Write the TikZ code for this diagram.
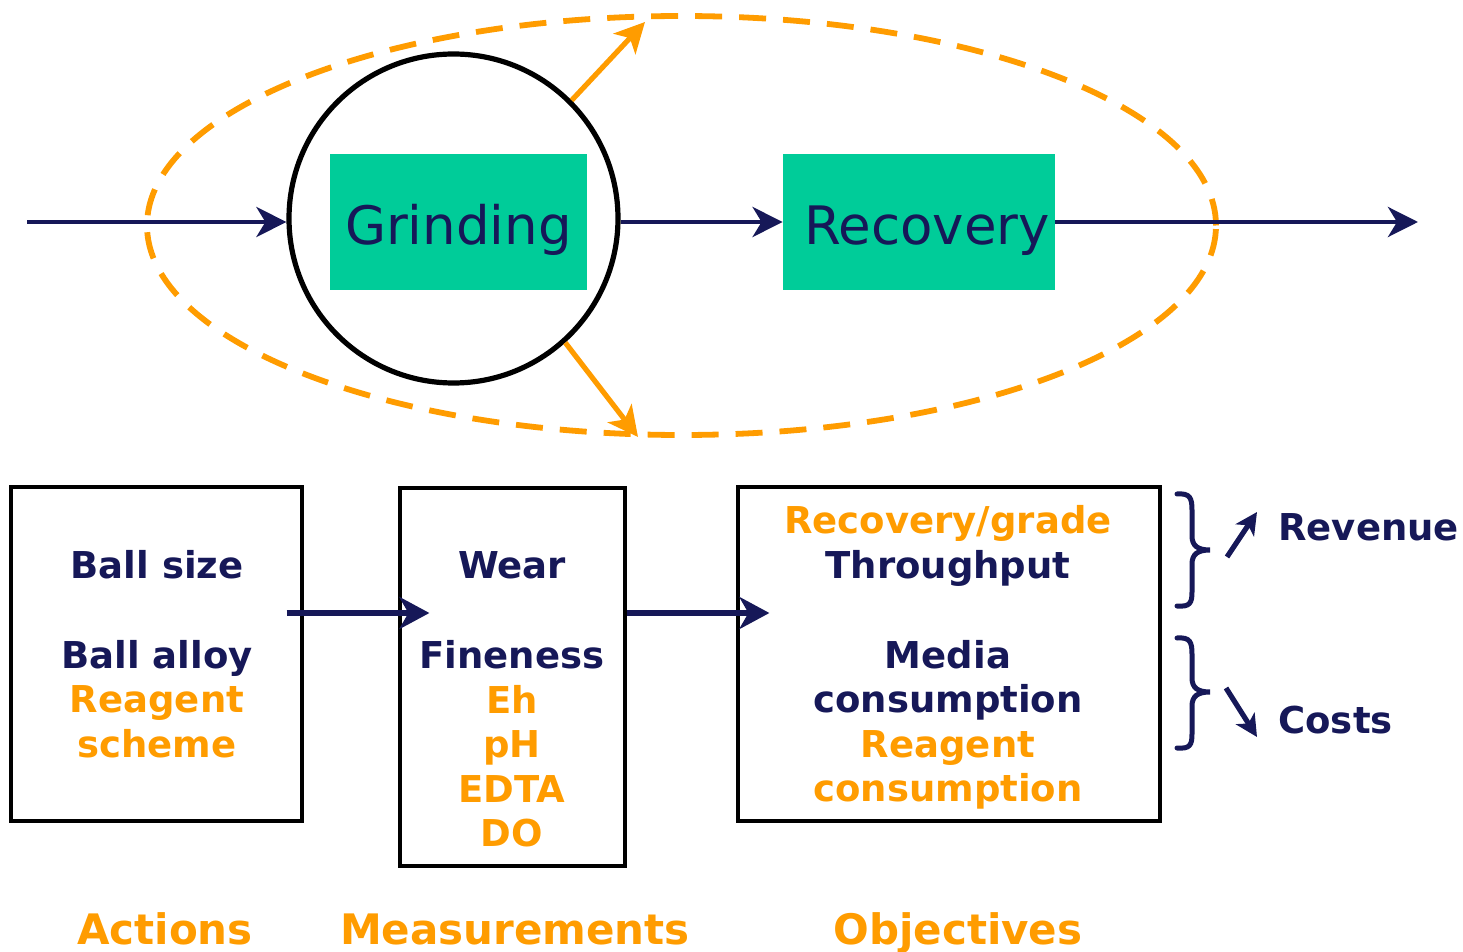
\documentclass[tikz,border=0pt]{standalone}
\usepackage{fontspec}
\setmainfont{DejaVu Sans}
\usetikzlibrary{arrows.meta,shapes.geometric,calc}
\definecolor{navy}{RGB}{22,24,88}
\definecolor{org}{RGB}{255,156,0}
\definecolor{grn}{RGB}{0,204,153}
\tikzset{
  tx/.style={anchor=base, inner sep=0pt, font=\fontsize{18.5}{22}\selectfont\bfseries},
  big/.style={anchor=base, inner sep=0pt, font=\fontsize{21}{25}\selectfont\bfseries, text=org},
  proc/.style={font=\fontsize{26.5}{30}\selectfont, text=navy, anchor=base, inner sep=0pt},
  greenbox/.style={rectangle, fill=grn, inner sep=0pt},
  bbox/.style={rectangle, draw=black, line width=1.6pt, inner sep=0pt},
  toparr/.style={draw=navy, line width=2.2pt, -{Stealth[length=15pt,width=15pt,inset=4.5pt]}},
  botarr/.style={draw=navy, line width=2.8pt, -{Stealth[length=15pt,width=16pt,inset=4.5pt]}},
  smallarr/.style={draw=navy, line width=2.6pt, -{Stealth[length=11pt,width=11pt,inset=3pt]}},
  orgarr/.style={draw=org, line width=2.6pt, -{Stealth[length=15pt,width=15pt,inset=4pt]}},
  brace/.style={draw=navy, line width=2.5pt, line cap=round}
}
\begin{document}
\begin{tikzpicture}[x=0.5pt,y=-0.5pt]
\useasboundingbox (0,0) rectangle (1463,952);

% dashed loop
\node[ellipse, draw=org, line width=2.9pt, dash pattern=on 13.5pt off 8.5pt,
      minimum width=534.5pt, minimum height=209.5pt, inner sep=0pt] (loop) at (681.5,225.5) {};

% grinding circle and boxes
\node[greenbox, minimum width=128.5pt, minimum height=68pt] (grb) at (458.5,222) {};
\node[circle, draw=black, line width=2.6pt, minimum size=164.5pt, inner sep=0pt] (circ) at (453.5,218.5) {};
\node[greenbox, minimum width=136pt, minimum height=68pt] (recb) at (919,222) {};
\node[proc] (grt) at (458.5,245) {Grinding};
\node[proc] (rect) at (927,245) {Recovery};

\coordinate (in) at (27,222);
\coordinate (out) at (1418,222);
\draw[toparr] (in) -- (in -| circ.west);
\draw[toparr] (circ.east |- recb.west) -- (recb.west);
\draw[toparr] (recb.east) -- (out);

\coordinate (o1) at (645,22);
\coordinate (o2) at (638,437);
\draw[orgarr] (circ.45) -- (o1);
\draw[orgarr] (circ.-48) -- (o2);

% bottom boxes
\node[bbox, minimum width=145.5pt, minimum height=167pt] (b1) at (156.5,654) {};
\node[bbox, minimum width=112.5pt, minimum height=189pt] (b2) at (512.5,677) {};
\node[bbox, minimum width=211pt, minimum height=167pt] (b3) at (949,654) {};

\draw[botarr] ($(b1.east)+(-17,-41)$) -- ($(b2.west)+(31,-64)$);
\draw[botarr] ($(b2.east)+(0,-64)$) -- ($(b3.west)+(33,-41)$);

% box 1 text
\node[tx, text=navy] (a1) at (157,578) {Ball size};
\node[tx, text=navy] (a2) at (157,668) {Ball alloy};
\node[tx, text=org] (a3) at (157,712) {Reagent};
\node[tx, text=org] (a4) at (157,757) {scheme};

% box 2 text
\node[tx, text=navy] (m1) at (512,578) {Wear};
\node[tx, text=navy] (m2) at (512,668) {Fineness};
\node[tx, text=org] (m3) at (512,713) {Eh};
\node[tx, text=org] (m4) at (512,757) {pH};
\node[tx, text=org] (m5) at (512,802) {EDTA};
\node[tx, text=org] (m6) at (512,846) {DO};

% box 3 text
\node[tx, text=org] (g1) at (948,533) {Recovery/grade};
\node[tx, text=navy] (g2) at (948,578) {Throughput};
\node[tx, text=navy] (g3) at (948,668) {Media};
\node[tx, text=navy] (g4) at (948,712) {consumption};
\node[tx, text=org] (g5) at (948,757) {Reagent};
\node[tx, text=org] (g6) at (948,801) {consumption};

% braces
\coordinate (bt1) at (1210,550);
\coordinate (bt2) at (1210,692);
\draw[brace] (1177,494) .. controls (1190,493) and (1192,498) .. (1192,510) -- (1192,536)
  .. controls (1192,546) and (1198,550) .. (bt1)
  .. controls (1198,550) and (1192,554) .. (1192,564) -- (1192,592)
  .. controls (1192,603) and (1190,607) .. (1177,606);
\draw[brace] (1177,638) .. controls (1190,637) and (1192,642) .. (1192,654) -- (1192,678)
  .. controls (1192,688) and (1198,692) .. (bt2)
  .. controls (1198,692) and (1192,696) .. (1192,706) -- (1192,734)
  .. controls (1192,745) and (1190,749) .. (1177,748);

\node[tx, text=navy, anchor=base west] (rev) at (1278,540) {Revenue};
\node[tx, text=navy, anchor=base west] (cost) at (1278,733) {Costs};
\draw[smallarr] ($(bt1)+(17,7)$) -- ($(rev.base west)+(-21,-28)$);
\draw[smallarr] ($(bt2)+(16,-4)$) -- ($(cost.base west)+(-21,4)$);

% bottom labels
\node[big] (l1) at (165,944) {Actions};
\node[big] (l2) at (515,944) {Measurements};
\node[big] (l3) at (958,944) {Objectives};
\end{tikzpicture}
\end{document}
